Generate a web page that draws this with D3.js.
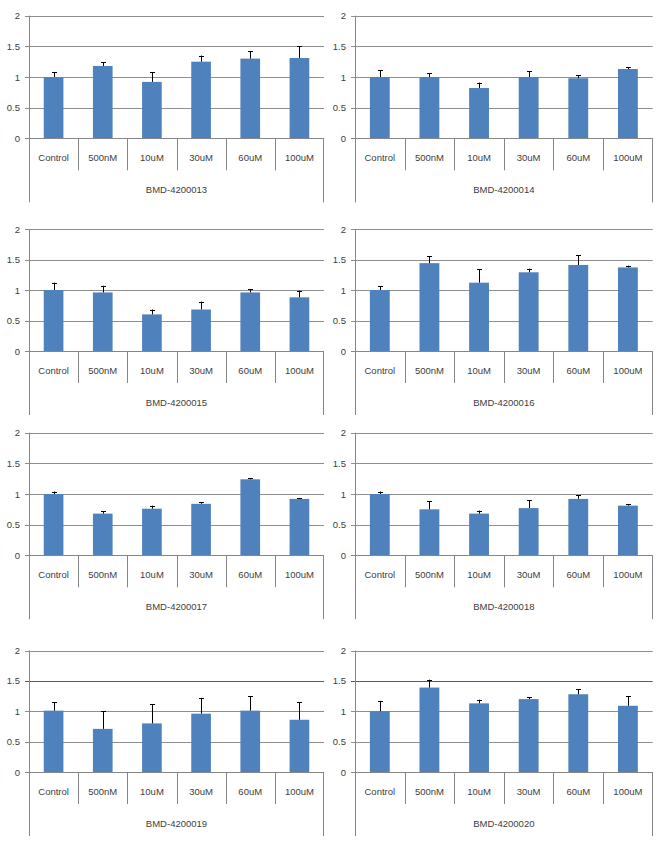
<!DOCTYPE html>
<html>
<head>
<meta charset="utf-8">
<script src="https://cdn.jsdelivr.net/npm/d3@7"></script>
<style>
  html, body { margin: 0; padding: 0; background: #fff; }
  svg { display: block; }
  text { font-family: "Liberation Sans", Arial, sans-serif; fill: #404040; }
</style>
</head>
<body>
<script>
// ---------- DATA ----------
const categories = ["Control", "500nM", "10uM", "30uM", "60uM", "100uM"];
const yTicks = [0, 0.5, 1, 1.5, 2];
const yTickLabels = ["0", "0.5", "1", "1.5", "2"];
const compounds = ["BMD-4200013", "BMD-4200014", "BMD-4200015", "BMD-4200016",
                   "BMD-4200017", "BMD-4200018", "BMD-4200019", "BMD-4200020"];

const mean13 = [1.00, 1.18, 0.92, 1.25, 1.30, 1.31];
const err13  = [0.08, 0.06, 0.16, 0.10, 0.12, 0.19];
const mean14 = [1.00, 1.00, 0.82, 1.00, 0.98, 1.13];
const err14  = [0.11, 0.06, 0.09, 0.09, 0.05, 0.03];
const mean15 = [1.00, 0.96, 0.60, 0.68, 0.96, 0.88];
const err15  = [0.12, 0.11, 0.08, 0.13, 0.05, 0.11];
const mean16 = [1.00, 1.44, 1.12, 1.29, 1.41, 1.37];
const err16  = [0.06, 0.11, 0.22, 0.06, 0.16, 0.03];
const mean17 = [1.00, 0.68, 0.76, 0.84, 1.24, 0.92];
const err17  = [0.04, 0.04, 0.05, 0.03, 0.02, 0.01];
const mean18 = [1.00, 0.75, 0.68, 0.77, 0.92, 0.81];
const err18  = [0.04, 0.13, 0.05, 0.13, 0.06, 0.02];
const mean19 = [1.01, 0.71, 0.80, 0.96, 1.01, 0.86];
const err19  = [0.14, 0.29, 0.32, 0.26, 0.24, 0.29];
const mean20 = [1.00, 1.39, 1.13, 1.20, 1.28, 1.09];
const err20  = [0.17, 0.13, 0.06, 0.03, 0.08, 0.16];

const means = [mean13, mean14, mean15, mean16, mean17, mean18, mean19, mean20];
const errs  = [err13, err14, err15, err16, err17, err18, err19, err20];

// ---------- LAYOUT ----------
const W = 659, H = 841;
const colX = [[29, 324], [355, 652.7]];
const rowY = [[15.7, 138.3], [229, 351], [432.7, 555.3], [650.5, 772]];

const svg = d3.select("body").append("svg").attr("width", W).attr("height", H);

const barColor = "#4F81BD";
const gridColor = "#8e8e8e";
const axisColor = "#868686";

compounds.forEach((name, i) => {
  const col = i % 2, row = Math.floor(i / 2);
  const [x0, x1] = colX[col];
  const [yTop, yBase] = rowY[row];

  const x = d3.scaleBand().domain(categories).range([x0, x1]).paddingInner(0).paddingOuter(0);
  const y = d3.scaleLinear().domain([0, 2]).range([yBase, yTop]);

  const g = svg.append("g");

  // gridlines (with small outward ticks)
  g.selectAll("line.grid").data(yTicks.filter(t => t > 0)).enter().append("line")
    .attr("x1", x0 - 4).attr("x2", x1)
    .attr("y1", d => Math.round(y(d)) + 0.5).attr("y2", d => Math.round(y(d)) + 0.5)
    .attr("stroke", d => (row === 3 && d === 1.5) ? "#5a5a5a" : gridColor)
    .attr("stroke-width", 1);

  // y tick labels
  g.selectAll("text.ytick").data(yTicks).enter().append("text")
    .attr("x", x0 - 9).attr("y", d => y(d) + 3.5)
    .attr("text-anchor", "end").attr("font-size", 9.5)
    .text((d, k) => yTickLabels[k]);

  // bars
  g.selectAll("rect.bar").data(categories).enter().append("rect")
    .attr("x", d => x(d) + x.bandwidth() * 0.3)
    .attr("width", x.bandwidth() * 0.4)
    .attr("y", (d, k) => y(means[i][k]))
    .attr("height", (d, k) => yBase - y(means[i][k]))
    .attr("fill", barColor);

  // error bars (plus direction only)
  const eg = g.selectAll("g.err").data(categories).enter().append("g");
  eg.append("line")
    .attr("x1", d => Math.round(x(d) + x.bandwidth() / 2) + 0.5)
    .attr("x2", d => Math.round(x(d) + x.bandwidth() / 2) + 0.5)
    .attr("y1", (d, k) => y(means[i][k]))
    .attr("y2", (d, k) => y(means[i][k] + errs[i][k]))
    .attr("stroke", "#000").attr("stroke-width", 1);
  eg.append("line")
    .attr("x1", d => Math.round(x(d) + x.bandwidth() / 2) - 2)
    .attr("x2", d => Math.round(x(d) + x.bandwidth() / 2) + 3)
    .attr("y1", (d, k) => Math.round(y(means[i][k] + errs[i][k])) + 0.5)
    .attr("y2", (d, k) => Math.round(y(means[i][k] + errs[i][k])) + 0.5)
    .attr("stroke", "#000").attr("stroke-width", 1);

  // baseline (0 gridline) with tick
  g.append("line")
    .attr("x1", x0 - 4).attr("x2", x1)
    .attr("y1", Math.round(yBase) + 0.5).attr("y2", Math.round(yBase) + 0.5)
    .attr("stroke", axisColor);

  // vertical axis (extends through category area)
  const xa = Math.round(x0) + 0.5;
  g.append("line").attr("x1", xa).attr("x2", xa)
    .attr("y1", yTop).attr("y2", yBase + 64).attr("stroke", axisColor);
  // right outer line in category area
  const xr = Math.round(x1) - 0.5;
  g.append("line").attr("x1", xr).attr("x2", xr)
    .attr("y1", yBase).attr("y2", yBase + 64).attr("stroke", axisColor);

  // category dividers
  g.selectAll("line.div").data(categories.slice(1)).enter().append("line")
    .attr("x1", d => Math.round(x(d)) + 0.5).attr("x2", d => Math.round(x(d)) + 0.5)
    .attr("y1", yBase).attr("y2", yBase + 32).attr("stroke", axisColor);

  // category labels
  g.selectAll("text.cat").data(categories).enter().append("text")
    .attr("x", d => x(d) + x.bandwidth() / 2)
    .attr("y", yBase + 22.5)
    .attr("text-anchor", "middle").attr("font-size", 9.5)
    .text(d => d);

  // group label
  g.append("text")
    .attr("x", (x0 + x1) / 2).attr("y", yBase + 54.5)
    .attr("text-anchor", "middle").attr("font-size", 9.5)
    .text(name);
});
</script>
</body>
</html>
